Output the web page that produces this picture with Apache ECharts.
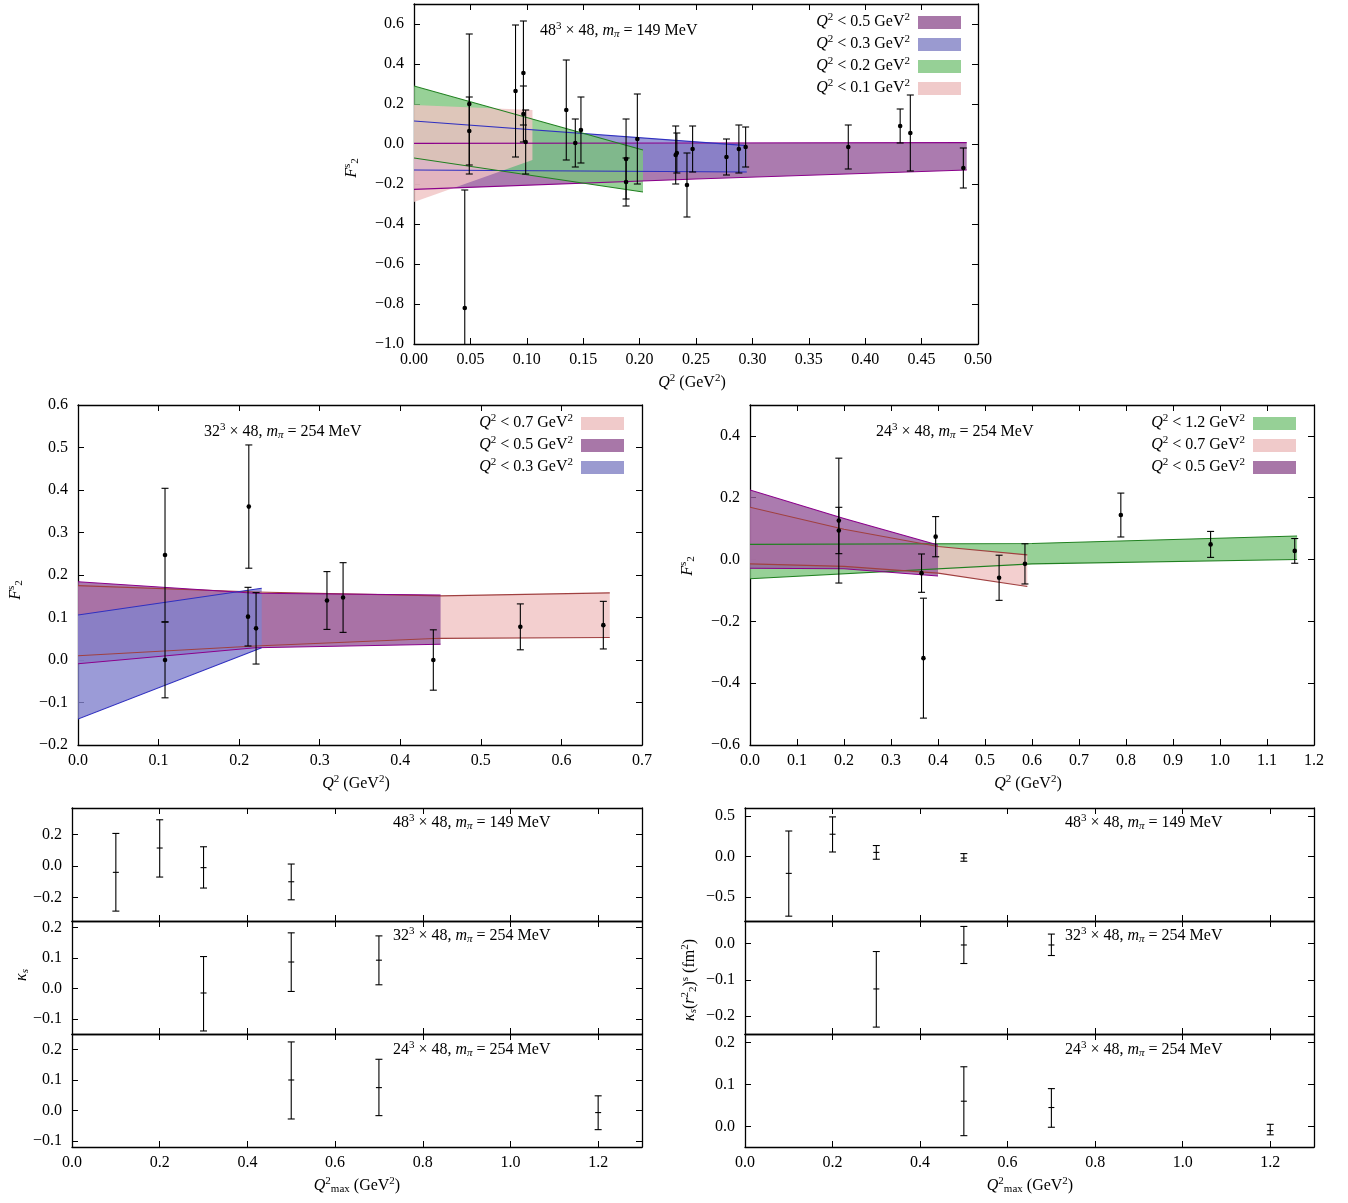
<!DOCTYPE html>
<html>
<head>
<meta charset="utf-8">
<script src="https://cdn.jsdelivr.net/npm/echarts@6/dist/echarts.min.js"></script>
<style>
html,body{margin:0;padding:0;background:#fff}
#main{width:1348px;height:1203px}
</style>
</head>
<body>
<div id="main"></div>
<script>
// ---- top panel: 48^3 x 48, m_pi = 149 MeV
var topQ2  = [0.045, 0.049, 0.049, 0.090, 0.097, 0.097, 0.099, 0.135, 0.143, 0.148, 0.188, 0.188, 0.198, 0.232, 0.233, 0.242, 0.247, 0.277, 0.288, 0.294, 0.385, 0.431, 0.440, 0.487];
var topF2  = [-0.82, 0.20, 0.065, 0.265, 0.355, 0.15, 0.01, 0.17, 0.005, 0.07, -0.075, -0.19, 0.025, -0.055, -0.045, -0.205, -0.025, -0.065, -0.025, -0.015, -0.015, 0.09, 0.055, -0.12];
var topErr = [0.59, 0.35, 0.17, 0.33, 0.26, 0.14, 0.16, 0.25, 0.12, 0.165, 0.2, 0.12, 0.225, 0.145, 0.1, 0.16, 0.115, 0.09, 0.12, 0.1, 0.11, 0.085, 0.19, 0.1];
// bands (x, lower, upper)
var topBand05 = {x: [0, 0.25, 0.49], lo: [-0.227, -0.175, -0.13], hi: [0.003, 0.005, 0.007]};
var topBand03 = {x: [0, 0.295], lo: [-0.13, -0.14], hi: [0.115, -0.008]};
var topBand02 = {x: [0, 0.203], lo: [-0.07, -0.24], hi: [0.29, -0.03]};
var topBand01 = {x: [0, 0.105], lo: [-0.29, -0.08], hi: [0.195, 0.17]};

// ---- middle left: 32^3 x 48, m_pi = 254 MeV
var mlQ2  = [0.108, 0.108, 0.212, 0.211, 0.221, 0.309, 0.329, 0.441, 0.549, 0.652];
var mlF2  = [0.247, 0.0, 0.361, 0.102, 0.0745, 0.140, 0.147, 0.0, 0.078, 0.082];
var mlErr = [0.157, 0.089, 0.145, 0.069, 0.084, 0.068, 0.082, 0.071, 0.054, 0.056];
var mlBand07 = {x: [0, 0.22, 0.45, 0.66], lo: [0.010, 0.033, 0.051, 0.053], hi: [0.175, 0.160, 0.151, 0.158]};
var mlBand05 = {x: [0, 0.22, 0.45], lo: [-0.009, 0.029, 0.037], hi: [0.184, 0.157, 0.153]};
var mlBand03 = {x: [0, 0.228], lo: [-0.139, 0.029], hi: [0.106, 0.169]};

// ---- middle right: 24^3 x 48, m_pi = 254 MeV
var mrQ2  = [0.189, 0.189, 0.365, 0.369, 0.395, 0.530, 0.585, 0.789, 0.980, 1.159];
var mrF2  = [0.126, 0.094, -0.044, -0.319, 0.074, -0.059, -0.014, 0.144, 0.049, 0.028];
var mrErr = [0.202, 0.075, 0.062, 0.194, 0.065, 0.073, 0.065, 0.071, 0.042, 0.04];
var mrBand12 = {x: [0, 0.6, 1.164], lo: [-0.062, -0.014, 0.0], hi: [0.049, 0.052, 0.076]};
var mrBand07 = {x: [0, 0.2, 0.4, 0.59], lo: [-0.014, -0.022, -0.044, -0.087], hi: [0.169, 0.098, 0.042, 0.015]};
var mrBand05 = {x: [0, 0.2, 0.4], lo: [-0.028, -0.03, -0.053], hi: [0.225, 0.133, 0.047]};

// ---- bottom left: kappa_s vs Q2max
var kQ2a = [0.1, 0.2, 0.3, 0.5],  kA = [-0.04, 0.115, -0.01, -0.10], kAlo = [-0.287, -0.07, -0.14, -0.215], kAhi = [0.208, 0.295, 0.123, 0.013];
var kQ2b = [0.3, 0.5, 0.7],       kB = [-0.015, 0.087, 0.093], kBlo = [-0.14, -0.01, 0.012], kBhi = [0.105, 0.183, 0.173];
var kQ2c = [0.5, 0.7, 1.2],       kC = [0.1, 0.075, -0.007], kClo = [-0.028, -0.017, -0.063], kChi = [0.225, 0.168, 0.048];

// ---- bottom right: kappa_s (r2^2)^s vs Q2max
var rQ2a = [0.1, 0.2, 0.3, 0.5],  rA = [-0.21, 0.275, 0.05, -0.02], rAlo = [-0.74, 0.055, -0.035, -0.06], rAhi = [0.315, 0.49, 0.135, 0.035];
var rQ2b = [0.3, 0.5, 0.7],       rB = [-0.125, -0.004, -0.004], rBlo = [-0.23, -0.055, -0.033], rBhi = [-0.022, 0.047, 0.026];
var rQ2c = [0.5, 0.7, 1.2],       rC = [0.06, 0.045, -0.01], rClo = [-0.022, -0.002, -0.02], rChi = [0.142, 0.09, 0.005];

var FONT = 'Liberation Serif';
var COL = {
  p05: {fill: 'rgba(150,90,155,0.8)', sw: 'rgb(168,119,168)', line: '#8b008b'},
  p03: {fill: 'rgba(130,130,205,0.8)', sw: 'rgb(154,154,208)', line: '#3030c0'},
  p02: {fill: 'rgba(125,198,125,0.8)', sw: 'rgb(150,208,150)', line: '#208020'},
  p01: {fill: 'rgba(240,195,195,0.8)', sw: 'rgb(240,202,202)', line: 'rgba(0,0,0,0)'},
  p07: {fill: 'rgba(240,195,195,0.8)', sw: 'rgb(240,202,202)', line: '#a04040'},
  p12: {fill: 'rgba(125,198,125,0.8)', sw: 'rgb(150,208,150)', line: '#208020'}
};

function fmt(d) {
  return function (v) {
    var s = (Math.abs(v) < 1e-9 ? 0 : v).toFixed(d);
    return s.replace('-', '\u2212');
  };
}

var grids = [], xAxes = [], yAxes = [], series = [], graphics = [];

function addPanel(g, xr, yr, opt) {
  opt = opt || {};
  var gi = grids.length;
  grids.push({left: g[0], top: g[1], width: g[2], height: g[3], containLabel: false});
  var lineSt = {show: true, onZero: false, lineStyle: {color: '#000', width: 1.3}};
  var tickIn = {show: true, inside: true, length: 6, lineStyle: {color: '#000'}};
  var xc = xr[3] ? {customValues: xr[3]} : {};
  var xBase = {type: 'value', gridIndex: gi, min: xr[0], max: xr[1], splitLine: {show: false}, axisLine: lineSt};
  if (!xr[3]) xBase.interval = xr[2];
  var xb = Object.assign({}, xBase, {position: 'bottom', axisTick: Object.assign({}, tickIn, xc),
    axisLabel: Object.assign({show: opt.xLabels !== false, fontFamily: FONT, fontSize: 16, color: '#000', margin: 8, formatter: fmt(xr[4] || 1)}, xc)});
  var xt = Object.assign({}, xBase, {position: 'top', axisTick: Object.assign({}, tickIn, xc), axisLabel: {show: false}});
  var yBase = {type: 'value', gridIndex: gi, min: yr[0], max: yr[1], splitLine: {show: false}, axisLine: lineSt};
  var yt = Object.assign({}, tickIn, {customValues: yr[2]});
  var yl = Object.assign({}, yBase, {position: 'left', axisTick: yt,
    axisLabel: {fontFamily: FONT, fontSize: 16, color: '#000', margin: 10, formatter: fmt(yr[3] || 1), customValues: yr[2]}});
  var yrr = Object.assign({}, yBase, {position: 'right', axisTick: yt, axisLabel: {show: false}});
  var xi = xAxes.length; xAxes.push(xb, xt);
  var yi = yAxes.length; yAxes.push(yl, yrr);
  return {x: xi, y: yi};
}

function bandSeries(ax, b, c) {
  function mk(lines) {
    return {
      type: 'custom', xAxisIndex: ax.x, yAxisIndex: ax.y, clip: true, silent: true, z: lines ? 3 : 1,
      data: [[b.x[0], b.lo[0]]],
      renderItem: function (params, api) {
        var up = b.x.map(function (x, i) { return api.coord([x, b.hi[i]]); });
        var dn = b.x.map(function (x, i) { return api.coord([x, b.lo[i]]); });
        if (!lines) return {type: 'polygon', shape: {points: up.concat(dn.slice().reverse())}, style: {fill: c.fill}};
        return {type: 'group', children: [
          {type: 'polyline', shape: {points: up}, style: {stroke: c.line, lineWidth: 1.1, fill: null}},
          {type: 'polyline', shape: {points: dn}, style: {stroke: c.line, lineWidth: 1.1, fill: null}}
        ]};
      }
    };
  }
  series.push(mk(false), mk(true));
}

function errSeries(ax, xs, ys, lo, hi, dot) {
  series.push({
    type: 'custom', xAxisIndex: ax.x, yAxisIndex: ax.y, clip: true, silent: true, z: 5,
    data: xs.map(function (x, i) { return [x, ys[i], lo[i], hi[i]]; }),
    renderItem: function (params, api) {
      var c = api.coord([api.value(0), api.value(1)]);
      var l = api.coord([api.value(0), api.value(2)]);
      var h = api.coord([api.value(0), api.value(3)]);
      var st = {stroke: '#000', lineWidth: 1.1};
      var cap = 3.5;
      var ch = [
        {type: 'line', shape: {x1: c[0], y1: l[1], x2: c[0], y2: h[1]}, style: st},
        {type: 'line', shape: {x1: c[0] - cap, y1: l[1], x2: c[0] + cap, y2: l[1]}, style: st},
        {type: 'line', shape: {x1: c[0] - cap, y1: h[1], x2: c[0] + cap, y2: h[1]}, style: st}
      ];
      if (dot) ch.push({type: 'circle', shape: {cx: c[0], cy: c[1], r: 2.3}, style: {fill: '#000'}});
      else ch.push({type: 'line', shape: {x1: c[0] - 3, y1: c[1], x2: c[0] + 3, y2: c[1]}, style: st});
      return {type: 'group', children: ch};
    }
  });
}

function symErr(ys, es, s) { return ys.map(function (y, i) { return y + s * es[i]; }); }

var rich = {
  n: {fontFamily: FONT, fontSize: 16, color: '#000'},
  i: {fontFamily: FONT, fontSize: 16, fontStyle: 'italic', color: '#000'},
  sup: {fontFamily: FONT, fontSize: 11, color: '#000', padding: [0, 0, 9, 0]},
  sub: {fontFamily: FONT, fontSize: 11, fontStyle: 'italic', color: '#000', padding: [6, 0, 0, 0]},
  subn: {fontFamily: FONT, fontSize: 11, color: '#000', padding: [6, 0, 0, 0]}
};
function txt(x, y, s, align, rot) {
  graphics.push({type: 'text', x: x, y: y, rotation: rot || 0, z: 20,
    style: {text: s, rich: rich, align: align || 'left', verticalAlign: 'middle', font: '16px ' + FONT}});
}
function title(x, y, L, m) { txt(x, y, '{n|' + L + '}{sup|3}{n| \u00d7 48, }{i|m}{sub|\u03c0}{n| = ' + m + ' MeV}'); }
function legend(xr, y0, labels, cols) {
  labels.forEach(function (lb, k) {
    var y = y0 + k * 22;
    txt(xr, y, '{i|Q}{sup|2}{n| < ' + lb + ' GeV}{sup|2}', 'right');
    graphics.push({type: 'rect', z: 20, shape: {x: xr + 8, y: y - 6, width: 43, height: 13}, style: {fill: cols[k].sw}});
  });
}
function q2name(x, y) { txt(x, y, '{i|Q}{sup|2}{n| (GeV}{sup|2}{n|)}', 'center'); }
function q2maxname(x, y) { txt(x, y, '{i|Q}{sup|2}{subn|max}{n| (GeV}{sup|2}{n|)}', 'center'); }
function f2name(x, y) { txt(x, y, '{i|F}{sup|s}{subn|2}', 'center', Math.PI / 2); }

// top
var aT = addPanel([414, 4, 564, 340], [0, 0.5, 0.05, null, 2], [-1.0, 0.7, [-1.0, -0.8, -0.6, -0.4, -0.2, 0, 0.2, 0.4, 0.6], 1]);
bandSeries(aT, topBand05, COL.p05);
bandSeries(aT, topBand03, COL.p03);
bandSeries(aT, topBand02, COL.p02);
bandSeries(aT, topBand01, COL.p01);
errSeries(aT, topQ2, topF2, symErr(topF2, topErr, -1), symErr(topF2, topErr, 1), true);
title(540, 31, '48', '149');
legend(910, 22, ['0.5', '0.3', '0.2', '0.1'], [COL.p05, COL.p03, COL.p02, COL.p01]);
q2name(692, 383); f2name(352, 168);

// middle left
var aML = addPanel([78, 405, 564, 340], [0, 0.7, 0.1, null, 1], [-0.2, 0.6, [-0.2, -0.1, 0, 0.1, 0.2, 0.3, 0.4, 0.5, 0.6], 1]);
bandSeries(aML, mlBand07, COL.p07);
bandSeries(aML, mlBand05, COL.p05);
bandSeries(aML, mlBand03, COL.p03);
errSeries(aML, mlQ2, mlF2, symErr(mlF2, mlErr, -1), symErr(mlF2, mlErr, 1), true);
title(204, 432, '32', '254');
legend(573, 423, ['0.7', '0.5', '0.3'], [COL.p07, COL.p05, COL.p03]);
q2name(356, 784); f2name(16, 590);

// middle right
var aMR = addPanel([750, 405, 564, 340], [0, 1.2, 0.1, null, 1], [-0.6, 0.5, [-0.6, -0.4, -0.2, 0, 0.2, 0.4], 1]);
bandSeries(aMR, mrBand12, COL.p12);
bandSeries(aMR, mrBand07, COL.p07);
bandSeries(aMR, mrBand05, COL.p05);
errSeries(aMR, mrQ2, mrF2, symErr(mrF2, mrErr, -1), symErr(mrF2, mrErr, 1), true);
title(876, 432, '24', '254');
legend(1245, 423, ['1.2', '0.7', '0.5'], [COL.p12, COL.p07, COL.p05]);
q2name(1028, 784); f2name(688, 566);

// bottom left
var qTicks = [0, 0.2, 0.4, 0.6, 0.8, 1.0, 1.2];
var b1 = addPanel([72, 808, 570, 113], [0, 1.3, 0.2, qTicks, 1], [-0.35, 0.37, [-0.2, 0, 0.2], 1], {xLabels: false});
var b2 = addPanel([72, 921, 570, 113], [0, 1.3, 0.2, qTicks, 1], [-0.15, 0.222, [-0.1, 0, 0.1, 0.2], 1], {xLabels: false});
var b3 = addPanel([72, 1034, 570, 113], [0, 1.3, 0.2, qTicks, 1], [-0.12, 0.251, [-0.1, 0, 0.1, 0.2], 1], {});
errSeries(b1, kQ2a, kA, kAlo, kAhi, false);
errSeries(b2, kQ2b, kB, kBlo, kBhi, false);
errSeries(b3, kQ2c, kC, kClo, kChi, false);
title(393, 823, '48', '149'); title(393, 936, '32', '254'); title(393, 1050, '24', '254');
q2maxname(357, 1186);
txt(22, 975, '{i|\u03ba}{sub|s}', 'center', Math.PI / 2);

// bottom right
var r1 = addPanel([745, 808, 569, 113], [0, 1.3, 0.2, qTicks, 1], [-0.8, 0.6, [-0.5, 0, 0.5], 1], {xLabels: false});
var r2 = addPanel([745, 921, 569, 113], [0, 1.3, 0.2, qTicks, 1], [-0.249, 0.062, [-0.2, -0.1, 0], 1], {xLabels: false});
var r3 = addPanel([745, 1034, 569, 113], [0, 1.3, 0.2, qTicks, 1], [-0.049, 0.22, [0, 0.1, 0.2], 1], {});
errSeries(r1, rQ2a, rA, rAlo, rAhi, false);
errSeries(r2, rQ2b, rB, rBlo, rBhi, false);
errSeries(r3, rQ2c, rC, rClo, rChi, false);
title(1065, 823, '48', '149'); title(1065, 936, '32', '254'); title(1065, 1050, '24', '254');
q2maxname(1030, 1186);
txt(690, 980, '{i|\u03ba}{sub|s}{n|(}{i|r}{sup|2}{subn|2}{n|)}{sup|s}{n| (fm}{sup|2}{n|)}', 'center', Math.PI / 2);

var chart = echarts.init(document.getElementById('main'));
chart.setOption({
  animation: false,
  backgroundColor: '#fff',
  grid: grids, xAxis: xAxes, yAxis: yAxes, series: series, graphic: graphics
});
</script>
</body>
</html>
